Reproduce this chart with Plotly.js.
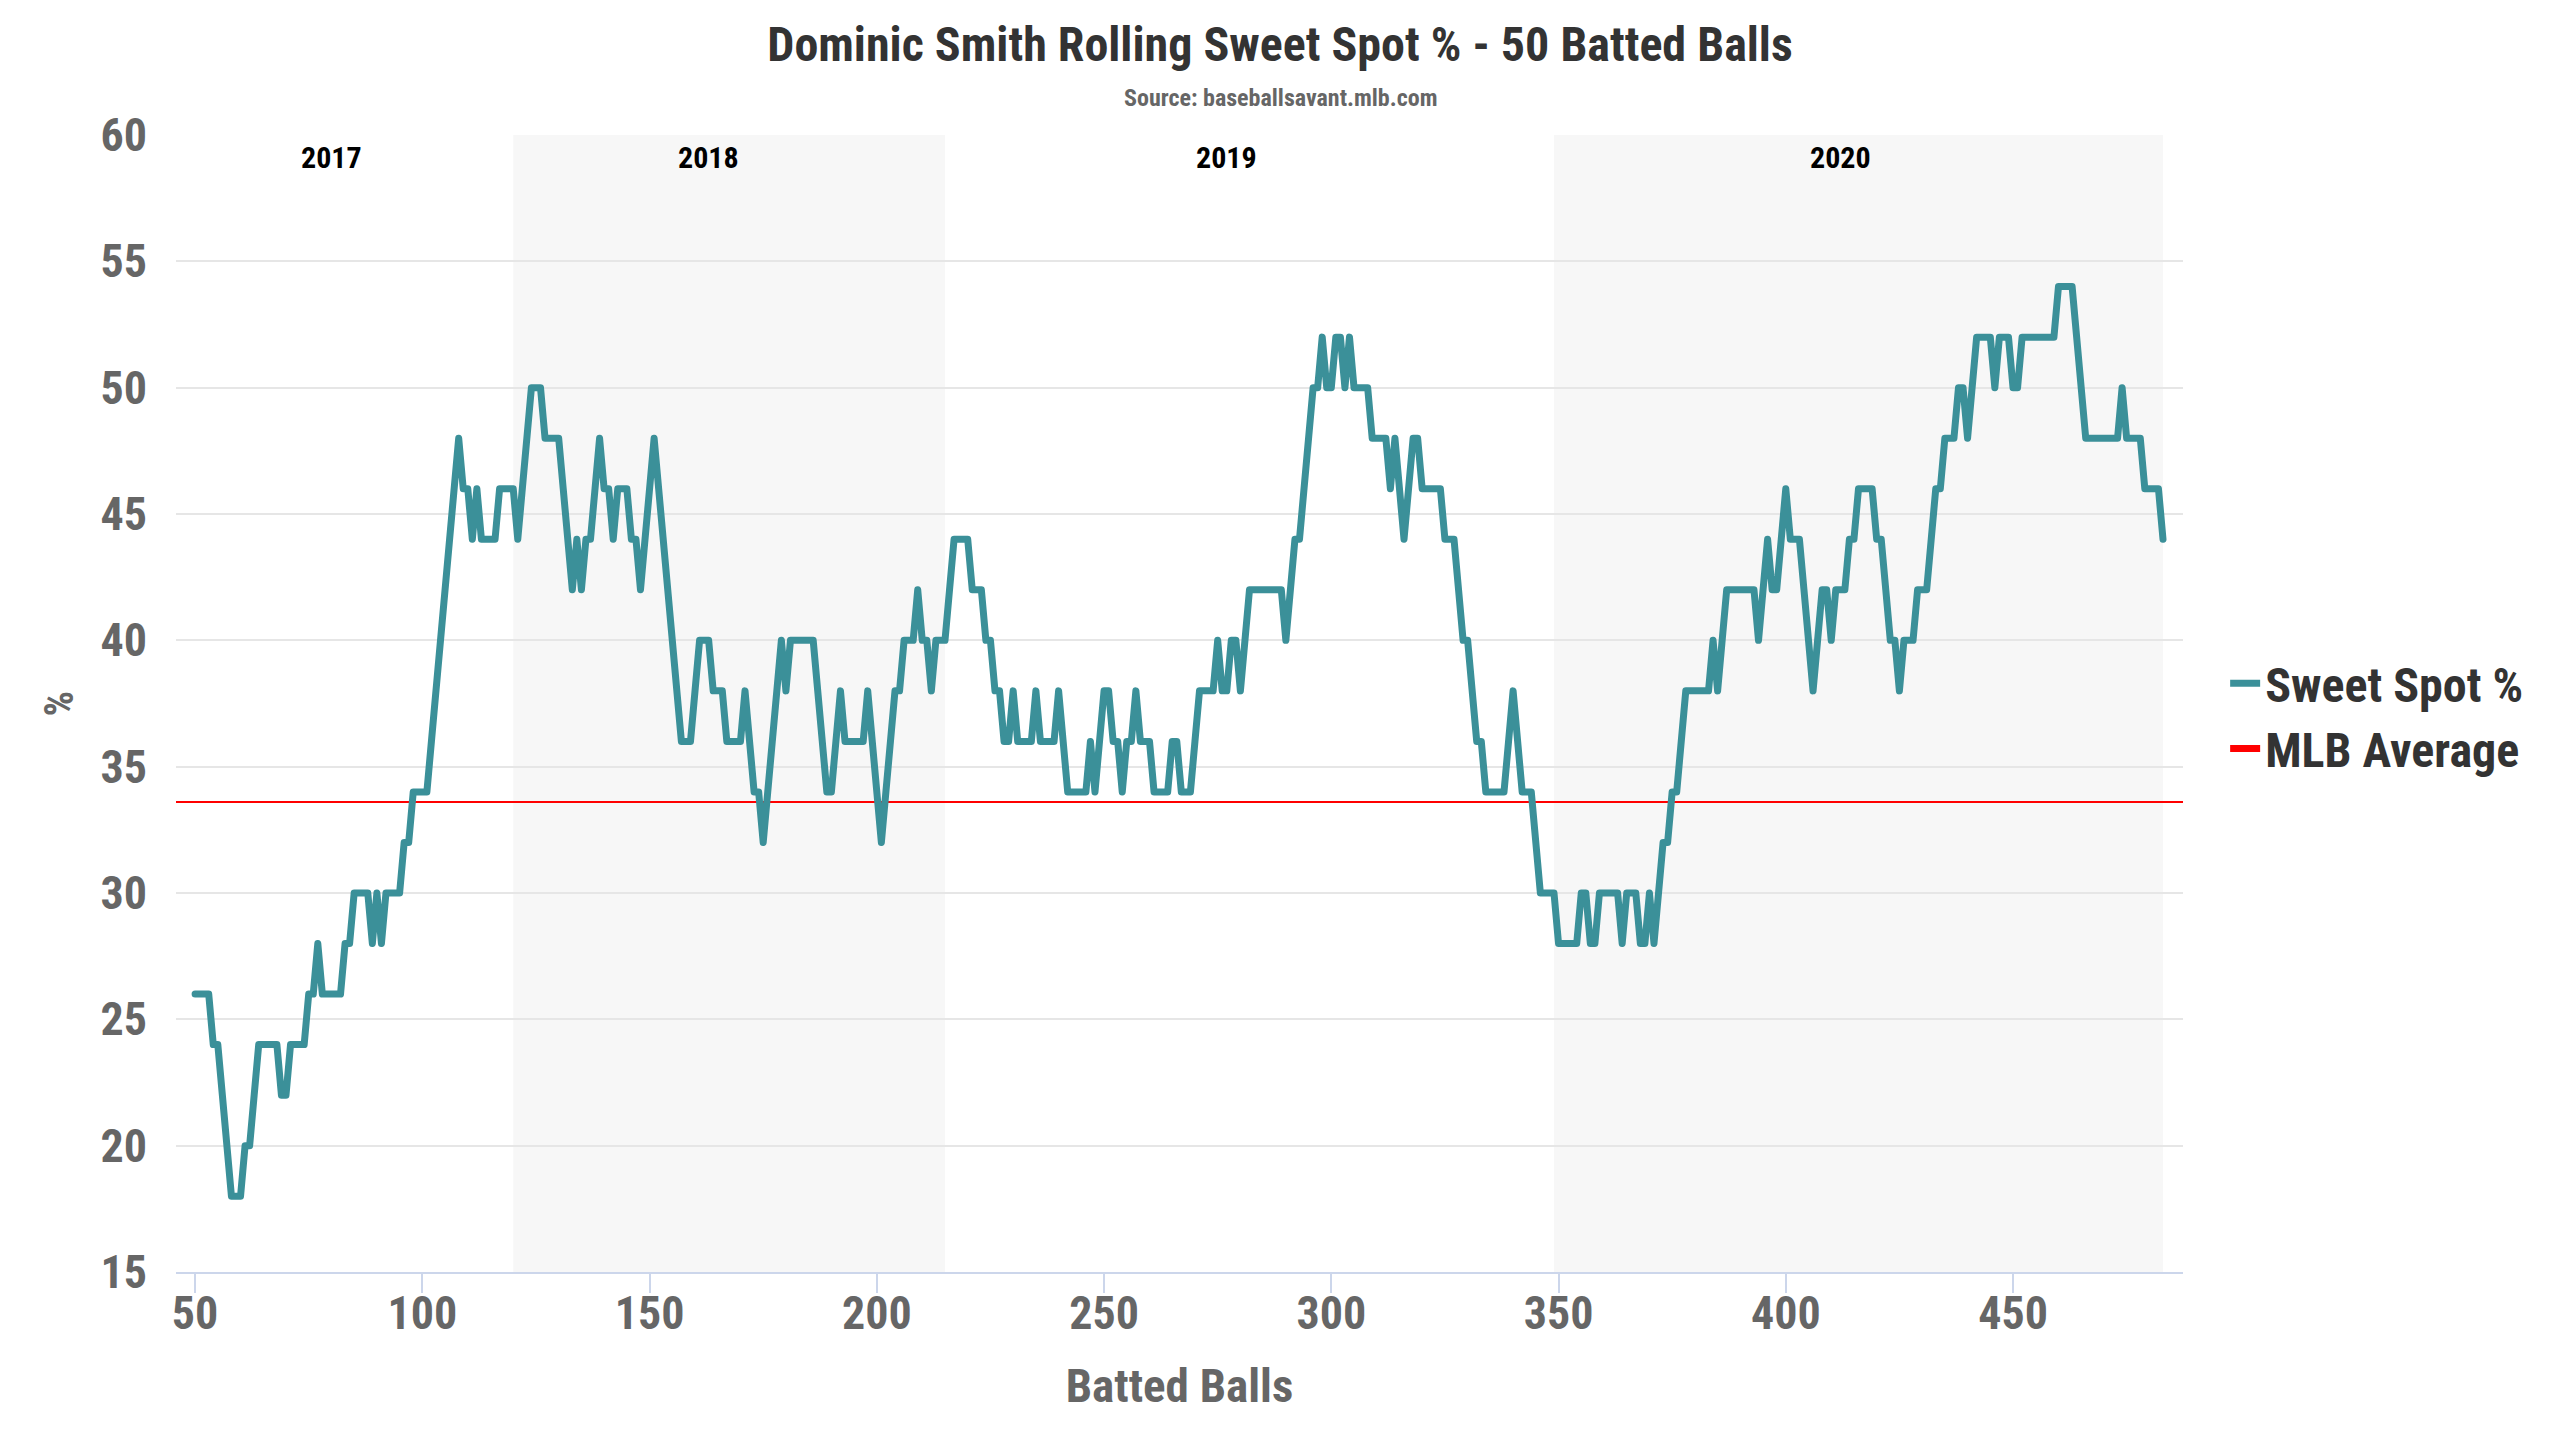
<!DOCTYPE html>
<html>
<head>
<meta charset="utf-8">
<script src="https://cdn.plot.ly/plotly-3.0.1.min.js"></script>
<style>
  html, body { margin: 0; padding: 0; background: #ffffff; }
  #graph { width: 2560px; height: 1440px; }
  /* round joins like the original chart */
  .scatterlayer .js-line { stroke-linejoin: round; stroke-linecap: round; }
  .legend .traces .js-line { stroke-width: 7px !important; stroke-linecap: butt; }
</style>
</head>
<body>
<div id="graph"></div>
<script>
//data
var firstBall = 50;
var sweetSpot = [
  26, 26, 26, 26, 24, 24, 22, 20, 18, 18,   // 50-59
  18, 20, 20, 22, 24, 24, 24, 24, 24, 22,   // 60-69
  22, 24, 24, 24, 24, 26, 26, 28, 26, 26,   // 70-79
  26, 26, 26, 28, 28, 30, 30, 30, 30, 28,   // 80-89
  30, 28, 30, 30, 30, 30, 32, 32, 34, 34,   // 90-99
  34, 34, 36, 38, 40, 42, 44, 46, 48, 46,   // 100-109
  46, 44, 46, 44, 44, 44, 44, 46, 46, 46,   // 110-119
  46, 44, 46, 48, 50, 50, 50, 48, 48, 48,   // 120-129
  48, 46, 44, 42, 44, 42, 44, 44, 46, 48,   // 130-139
  46, 46, 44, 46, 46, 46, 44, 44, 42, 44,   // 140-149
  46, 48, 46, 44, 42, 40, 38, 36, 36, 36,   // 150-159
  38, 40, 40, 40, 38, 38, 38, 36, 36, 36,   // 160-169
  36, 38, 36, 34, 34, 32, 34, 36, 38, 40,   // 170-179
  38, 40, 40, 40, 40, 40, 40, 38, 36, 34,   // 180-189
  34, 36, 38, 36, 36, 36, 36, 36, 38, 36,   // 190-199
  34, 32, 34, 36, 38, 38, 40, 40, 40, 42,   // 200-209
  40, 40, 38, 40, 40, 40, 42, 44, 44, 44,   // 210-219
  44, 42, 42, 42, 40, 40, 38, 38, 36, 36,   // 220-229
  38, 36, 36, 36, 36, 38, 36, 36, 36, 36,   // 230-239
  38, 36, 34, 34, 34, 34, 34, 36, 34, 36,   // 240-249
  38, 38, 36, 36, 34, 36, 36, 38, 36, 36,   // 250-259
  36, 34, 34, 34, 34, 36, 36, 34, 34, 34,   // 260-269
  36, 38, 38, 38, 38, 40, 38, 38, 40, 40,   // 270-279
  38, 40, 42, 42, 42, 42, 42, 42, 42, 42,   // 280-289
  40, 42, 44, 44, 46, 48, 50, 50, 52, 50,   // 290-299
  50, 52, 52, 50, 52, 50, 50, 50, 50, 48,   // 300-309
  48, 48, 48, 46, 48, 46, 44, 46, 48, 48,   // 310-319
  46, 46, 46, 46, 46, 44, 44, 44, 42, 40,   // 320-329
  40, 38, 36, 36, 34, 34, 34, 34, 34, 36,   // 330-339
  38, 36, 34, 34, 34, 32, 30, 30, 30, 30,   // 340-349
  28, 28, 28, 28, 28, 30, 30, 28, 28, 30,   // 350-359
  30, 30, 30, 30, 28, 30, 30, 30, 28, 28,   // 360-369
  30, 28, 30, 32, 32, 34, 34, 36, 38, 38,   // 370-379
  38, 38, 38, 38, 40, 38, 40, 42, 42, 42,   // 380-389
  42, 42, 42, 42, 40, 42, 44, 42, 42, 44,   // 390-399
  46, 44, 44, 44, 42, 40, 38, 40, 42, 42,   // 400-409
  40, 42, 42, 42, 44, 44, 46, 46, 46, 46,   // 410-419
  44, 44, 42, 40, 40, 38, 40, 40, 40, 42,   // 420-429
  42, 42, 44, 46, 46, 48, 48, 48, 50, 50,   // 430-439
  48, 50, 52, 52, 52, 52, 50, 52, 52, 52,   // 440-449
  50, 50, 52, 52, 52, 52, 52, 52, 52, 52,   // 450-459
  54, 54, 54, 54, 52, 50, 48, 48, 48, 48,   // 460-469
  48, 48, 48, 48, 50, 48, 48, 48, 48, 46,   // 470-479
  46, 46, 46, 44                            // 480-483
];
var battedBalls = sweetSpot.map(function (v, i) { return firstBall + i; });

var mlbAverage = 33.6;

var xRange = [45.8, 487.4];
var yRange = [15, 60];
var xTicks = [50, 100, 150, 200, 250, 300, 350, 400, 450];
var yTicks = [15, 20, 25, 30, 35, 40, 45, 50, 55, 60];

//seasons: label position and shaded stretches
var seasons = ['2017', '2018', '2019', '2020'];
var seasonLabelX = [80, 163, 277, 412];
var shadedStart = [120, 349];
var shadedEnd = [215, 483];

var fontFamily = '"Liberation Sans Narrow", "Roboto Condensed", Roboto, sans-serif';

var mlbTrace = {
  x: xRange,
  y: [mlbAverage, mlbAverage],
  type: 'scatter',
  mode: 'lines',
  name: 'MLB Average',
  line: { color: '#ff0000', width: 2 },
  hoverinfo: 'skip'
};

var sweetTrace = {
  x: battedBalls,
  y: sweetSpot,
  type: 'scatter',
  mode: 'lines',
  name: 'Sweet Spot %',
  line: { color: '#3b9099', width: 7 }
};

var shapes = [];
for (var i = 0; i < shadedStart.length; i++) {
  shapes.push({
    type: 'rect', layer: 'below',
    xref: 'x', yref: 'paper',
    x0: shadedStart[i], x1: shadedEnd[i], y0: 0, y1: 1,
    fillcolor: '#f7f7f7', line: { width: 0 }
  });
}

var annotations = [];
for (var j = 0; j < seasons.length; j++) {
  annotations.push({
    text: seasons[j], x: seasonLabelX[j], xref: 'x',
    y: 0.98, yref: 'paper', yanchor: 'middle', showarrow: false,
    font: { family: fontFamily, size: 30, color: '#000000', weight: 'bold' }
  });
}
//subtitle
annotations.push({
  text: 'Source: baseballsavant.mlb.com',
  x: 0.5501, xref: 'paper', xanchor: 'center',
  y: 1.0325, yref: 'paper', yanchor: 'middle', showarrow: false,
  font: { family: fontFamily, size: 24, color: '#666666', weight: 'bold' }
});
//y axis title
annotations.push({
  text: '%', textangle: -90,
  x: -0.0578, xref: 'paper', xanchor: 'center',
  y: 0.5, yref: 'paper', yanchor: 'middle', showarrow: false,
  font: { family: fontFamily, size: 40, color: '#666666', weight: 'bold' }
});

var layout = {
  width: 2560,
  height: 1440,
  margin: { l: 176, r: 377, t: 135, b: 168 },
  paper_bgcolor: '#ffffff',
  plot_bgcolor: '#ffffff',
  font: { family: fontFamily, color: '#666666' },
  title: {
    text: 'Dominic Smith Rolling Sweet Spot % - 50 Batted Balls',
    xref: 'container', x: 0.5, xanchor: 'center',
    yref: 'container', y: 0.969, yanchor: 'middle',
    font: { family: fontFamily, size: 48, color: '#333333', weight: 'bold' }
  },
  xaxis: {
    range: xRange,
    tickvals: xTicks,
    ticktext: xTicks.map(String),
    showgrid: false,
    zeroline: false,
    showline: true,
    linecolor: '#ccd6eb',
    linewidth: 2,
    ticks: 'outside',
    ticklen: 19,
    tickwidth: 2,
    tickcolor: '#ccd6eb',
    ticklabelstandoff: -19,
    tickfont: { family: fontFamily, size: 46, color: '#666666', weight: 'bold' },
    title: {
      text: 'Batted Balls',
      standoff: 30,
      font: { family: fontFamily, size: 47, color: '#666666', weight: 'bold' }
    }
  },
  yaxis: {
    range: yRange,
    tickvals: yTicks,
    ticktext: yTicks.map(String),
    showgrid: true,
    gridcolor: '#e6e6e6',
    gridwidth: 2,
    zeroline: false,
    showline: false,
    ticks: '',
    ticklabelstandoff: 28,
    tickfont: { family: fontFamily, size: 46, color: '#666666', weight: 'bold' }
  },
  showlegend: true,
  legend: {
    x: 1.021, xanchor: 'left',
    y: 0.489, yanchor: 'middle',
    traceorder: 'reversed',
    bgcolor: 'rgba(0,0,0,0)',
    font: { family: fontFamily, size: 48, color: '#333333', weight: 'bold' }
  },
  shapes: shapes,
  annotations: annotations
};

var data = [mlbTrace, sweetTrace];
var config = { staticPlot: true };
Plotly.newPlot('graph', data, layout, config);
</script>
</body>
</html>
